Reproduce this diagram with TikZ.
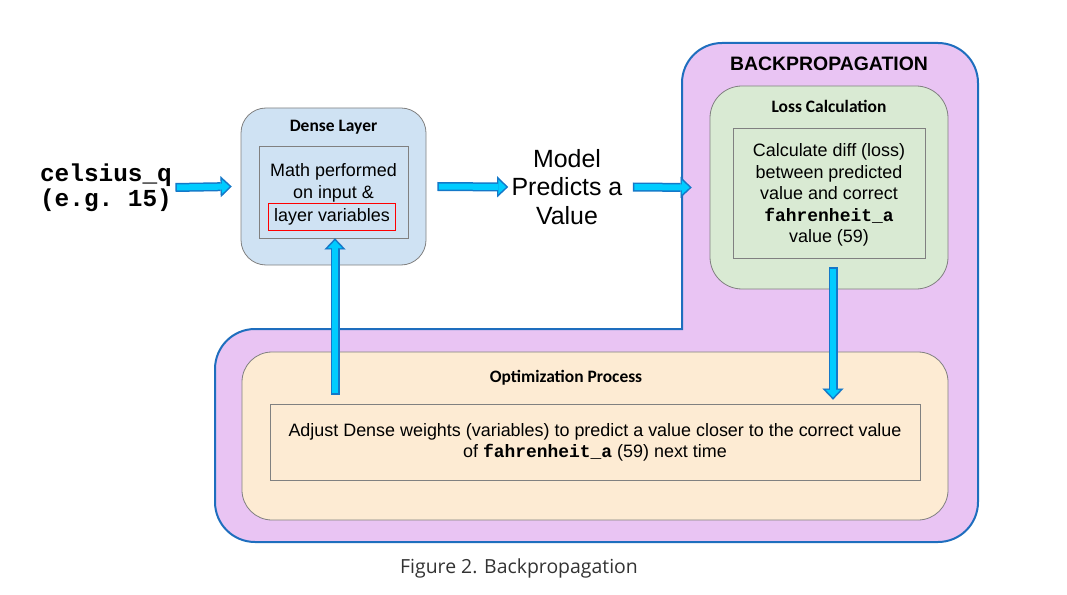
\documentclass[tikz,border=0pt]{standalone}
\usepackage{fontspec}
\setmainfont{Liberation Sans}
\setmonofont{Liberation Mono}
\newfontfamily\headfont{Carlito}
\newfontfamily\capfont{Open Sans}
\usetikzlibrary{arrows.meta,positioning,calc}

\definecolor{bpfill}{RGB}{233,196,243}
\definecolor{bpline}{RGB}{30,110,190}
\definecolor{densefill}{RGB}{207,226,243}
\definecolor{lossfill}{RGB}{217,234,211}
\definecolor{optfill}{RGB}{253,235,211}
\definecolor{boxline}{RGB}{128,128,128}
\definecolor{arrowfill}{RGB}{0,204,255}
\definecolor{arrowline}{RGB}{20,120,200}
\definecolor{captext}{RGB}{51,51,51}

\tikzset{
  stagebox/.style={draw=boxline, line width=0.8bp, rounded corners=28bp, inner sep=0pt},
  innerbox/.style={draw=boxline, line width=0.8bp, inner sep=0pt},
  boxtitle/.style={font=\headfont\bfseries\fontsize{17.5}{20}\selectfont},
  bodytext/.style={align=center, font=\fontsize{18}{21.6}\selectfont},
  blockarrow/.style={line width=9bp, draw=arrowline,
    -{Triangle[length=11bp,width=21bp,line width=0.01pt]},
    postaction={draw=arrowfill, line width=6bp, shorten <=1.5bp, shorten >=2.2bp,
      -{Triangle[length=7.5bp,width=14bp,line width=0.01pt]}}}
}

\begin{document}
\begin{tikzpicture}[x=1bp, y=-1bp]
                \useasboundingbox (0,0) rectangle (1067,595);

                % Backpropagation region
                \draw[bpline, fill=bpfill, line width=2bp] (215,440) [rounded corners=40bp]
                  -- (215,329) -- (450,329) [sharp corners] -- (682,329) -- (682,200)
                  [rounded corners=40bp] -- (682,43) -- (978,43) -- (978,542) -- (215,542) -- cycle;
                \node[font=\bfseries\fontsize{19.5}{22}\selectfont] (bptitle) at (829,64) {BACKPROPAGATION};

                % Input
                \node[align=center, font=\ttfamily\bfseries\fontsize{24.5}{25.5}\selectfont] (celsius) at (106,187.5) {celsius\_q\\(e.g. 15)};

                % Dense layer
                \node[stagebox, fill=densefill, minimum width=185bp, minimum height=157bp, rounded corners=25bp] (dense) at (333.5,186.5) {};
                \node[boxtitle] (densetitle) at (333.5,127) {Dense Layer};
                \node[innerbox, minimum width=149bp, minimum height=92bp] (densein) at (333.5,192) {};
                \node[bodytext] (densetxt) at (333.5,183) {Math performed\\on input \&};
                \node[draw=red, line width=0.8bp, inner xsep=5.5bp, inner ysep=0pt, minimum height=27bp, font=\fontsize{18}{21.6}\selectfont] (layervars) at (332,216.5) {layer variables};

                % Prediction
                \node[align=center, font=\fontsize{25}{28.5}\selectfont] (model) at (567,187) {Model\\Predicts a\\Value};

                % Loss calculation
                \node[stagebox, fill=lossfill, minimum width=238bp, minimum height=203bp, rounded corners=32bp] (loss) at (829,187.5) {};
                \node[boxtitle] (losstitle) at (829,106) {Loss Calculation};
                \node[innerbox, fill=lossfill, minimum width=192bp, minimum height=130bp] (lossin) at (829,193) {};
                \node[bodytext] (losstxt) at (829,195) {Calculate diff (loss)\\between predicted\\value and correct\\\texttt{\bfseries fahrenheit\_a}\\value (59)};

                % Optimization process
                \node[stagebox, fill=optfill, minimum width=706bp, minimum height=168bp, rounded corners=30bp] (opt) at (595,436) {};
                \node[boxtitle] (opttitle) at (566,378) {Optimization Process};
                \node[innerbox, minimum width=650bp, minimum height=76bp] (optin) at (595,442) {};
                \node[bodytext] (opttxt) at (595,442.5) {Adjust Dense weights (variables) to predict a value closer to the correct value\\of \texttt{\bfseries fahrenheit\_a} (59) next time};

                % Caption
                \node[font=\capfont\fontsize{19.5}{22}\selectfont, text=captext] (caption) at (519,568) {Figure 2. Backpropagation};

                % Arrows
                \coordinate (upstart) at ($(densein.south |- optin.north)+(1.5,-9)$);
                \coordinate (upend) at ($(densein.south)+(1.5,0)$);
                \coordinate (downstart) at ($(lossin.south)+(4,9)$);
                \coordinate (downend) at ($(lossin.south |- optin.north)+(4,-4)$);
                \draw[blockarrow] (celsius.east) -- ([xshift=-9bp]dense.west);
                \draw[blockarrow] ([xshift=11bp]dense.east) -- (model.west);
                \draw[blockarrow] ([xshift=7bp]model.east) -- ([xshift=-18bp]loss.west);
                \draw[blockarrow] (upstart) -- (upend);
                \draw[blockarrow] (downstart) -- (downend);
\end{tikzpicture}
\end{document}
